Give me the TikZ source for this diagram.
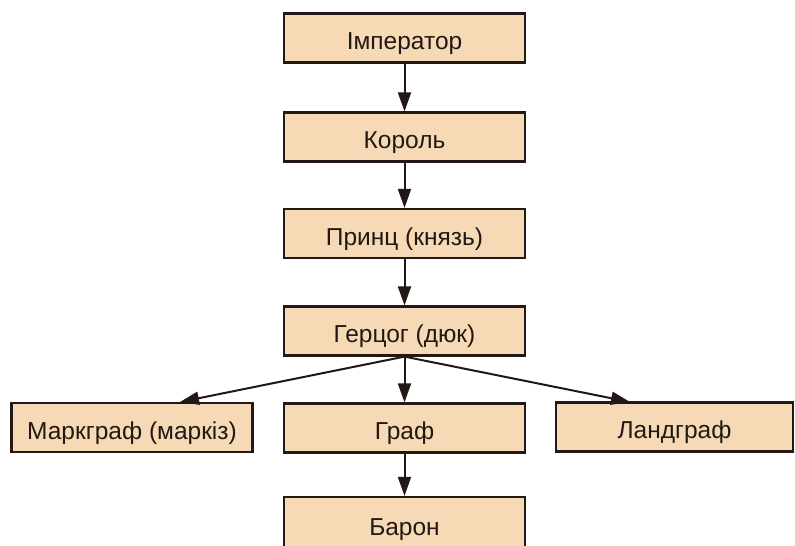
\documentclass[tikz,border=0pt]{standalone}
\usepackage{fontspec}
\setmainfont{Liberation Sans}
\usetikzlibrary{arrows.meta}
\definecolor{boxfill}{HTML}{F6DAB5}
\definecolor{inkc}{HTML}{231815}
\tikzset{
  rank/.style={draw=inkc, line width=2.2pt, fill=boxfill, minimum height=49pt,
    inner sep=0pt, text=inkc, text height=23pt, text depth=0pt,
    font=\fontsize{24.5}{28}\selectfont},
  wide/.style={rank, minimum width=241pt},
  link/.style={draw=inkc, line width=2pt, -{Triangle[length=19pt,width=13pt]}}
}
\begin{document}
\begin{tikzpicture}[x=1pt,y=-1pt]
\useasboundingbox (0,0) rectangle (795,546);
\node[wide] (imp) at (404.5,38) {Імператор};
\node[wide] (kor) at (404.5,137) {Король};
\node[wide] (pri) at (404.5,233.5) {Принц (князь)};
\node[wide] (ger) at (404.5,331) {Герцог (дюк)};
\node[wide] (gra) at (404.5,428) {Граф};
\node[rank, minimum width=241pt] (mar) at (132,427.5) {Маркграф (маркіз)};
\node[rank, minimum width=237pt] (lan) at (674.5,427) {Ландграф};
\node[wide, minimum height=54pt] (bar) at (404.5,524) {Барон};
\coordinate (fork) at (ger.south);
\coordinate (mtop) at (180,402);
\coordinate (ltop) at (630,402);
\draw[link] (imp) -- (kor);
\draw[link] (kor) -- (pri);
\draw[link] (pri) -- (ger);
\draw[link] (ger) -- (gra);
\draw[link] (gra) -- (bar);
\draw[link] (fork) -- (mtop);
\draw[link] (fork) -- (ltop);
\end{tikzpicture}
\end{document}
